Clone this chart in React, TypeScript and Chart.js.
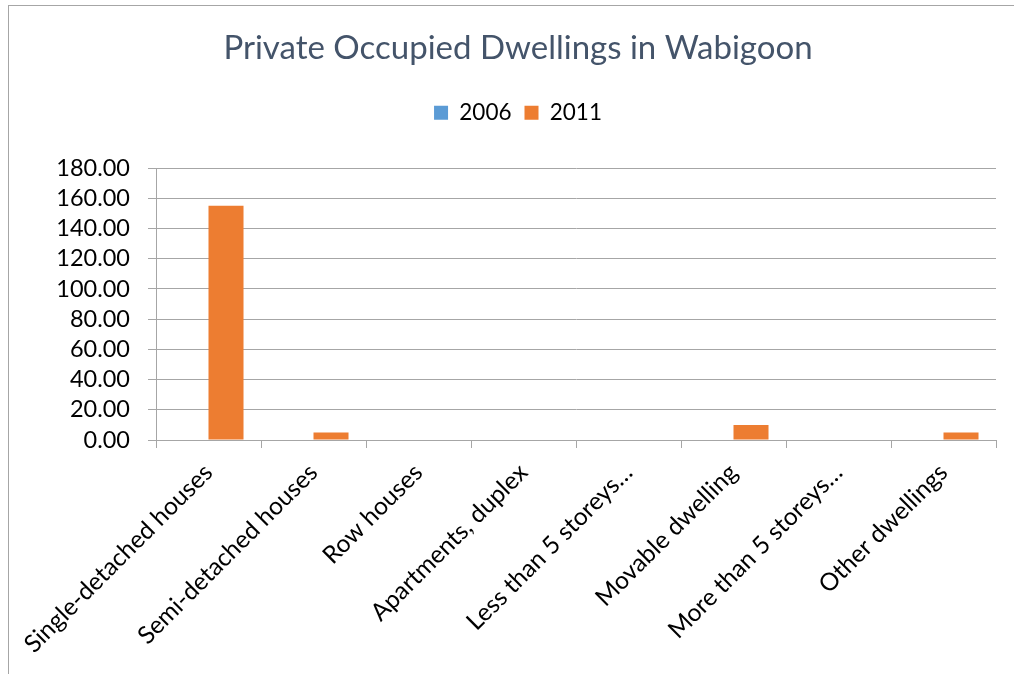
import React, { useEffect, useRef } from "react";
import { Chart, registerables } from "chart.js";

Chart.register(...registerables);

const categories = [
  "Single-detached houses",
  "Semi-detached houses",
  "Row houses",
  "Apartments, duplex",
  "Less than 5 storeys…",
  "Movable dwelling",
  "More than 5 storeys…",
  "Other dwellings",
];
const values2006 = [0, 0, 0, 0, 0, 0, 0, 0];
const values2011 = [155, 5, 0, 0, 0, 10, 0, 5];
const yTicksMax = 180;
const yTickStep = 20;

const FONT = "Lato, 'Open Sans', sans-serif";

const framePlugin = {
  id: "frame",
  beforeDraw(chart: any) {
    const ctx = chart.ctx;
    ctx.save();
    ctx.strokeStyle = "#A6A6A6";
    ctx.lineWidth = 1;
    ctx.strokeRect(8.5, 5.5, 2000, 2000);
    ctx.restore();
  },
};

const legendSpacing = {
  id: "legendSpacing",
  beforeInit(chart: any) {
    const orig = chart.legend.fit;
    chart.legend.fit = function () {
      orig.call(this);
      this.height += 34;
    };
  },
};

export default function App() {
  const ref = useRef<HTMLCanvasElement>(null);
  useEffect(() => {
    const chart = new Chart(ref.current!, {
      type: "bar",
      data: {
        labels: categories,
        datasets: [
          { label: "2006", data: values2006, backgroundColor: "#5B9BD5", categoryPercentage: 0.667, barPercentage: 1 },
          { label: "2011", data: values2011, backgroundColor: "#ED7D31", categoryPercentage: 0.667, barPercentage: 1 },
        ],
      },
      plugins: [framePlugin, legendSpacing],
      options: {
        responsive: false,
        animation: false,
        layout: { padding: { left: 40, right: 18, top: 0, bottom: 0 } },
        plugins: {
          title: {
            display: true,
            text: "Private Occupied Dwellings in Wabigoon",
            color: "#44546A",
            font: { family: FONT, size: 33, weight: "normal" },
            padding: { top: 29, bottom: 20 },
          },
          legend: {
            display: true,
            labels: {
              color: "#000",
              font: { family: FONT, size: 22.5 },
              boxWidth: 14,
              boxHeight: 14,
              padding: 13,
            },
          },
          tooltip: { enabled: false },
        },
        scales: {
          x: {
            grid: { drawOnChartArea: false, drawTicks: true, tickLength: 8, color: "#A6A6A6", offset: true },
            border: { color: "#A6A6A6" },
            ticks: {
              color: "#000",
              font: { family: FONT, size: 24.5 },
              minRotation: 45,
              maxRotation: 45,
              autoSkip: false,
              padding: 10,
            },
            afterFit(scale: any) {
              scale.height = 674 - 440;
            },
          },
          y: {
            min: 0,
            max: yTicksMax,
            grid: { color: "#A6A6A6", tickLength: 8 },
            border: { color: "#A6A6A6" },
            ticks: {
              stepSize: yTickStep,
              autoSkip: false,
              color: "#000",
              font: { family: FONT, size: 23.5 },
              padding: 18,
              callback: (v: any) => Number(v).toFixed(2),
            },
            afterFit(scale: any) {
              scale.width = 116;
            },
          },
        },
      },
    });
    return () => chart.destroy();
  }, []);
  return (
    <div style={{ position: "fixed", left: 0, top: 0, width: 1014, height: 674, background: "#fff" }}>
      <canvas ref={ref} width={1014} height={674} />
    </div>
  );
}
